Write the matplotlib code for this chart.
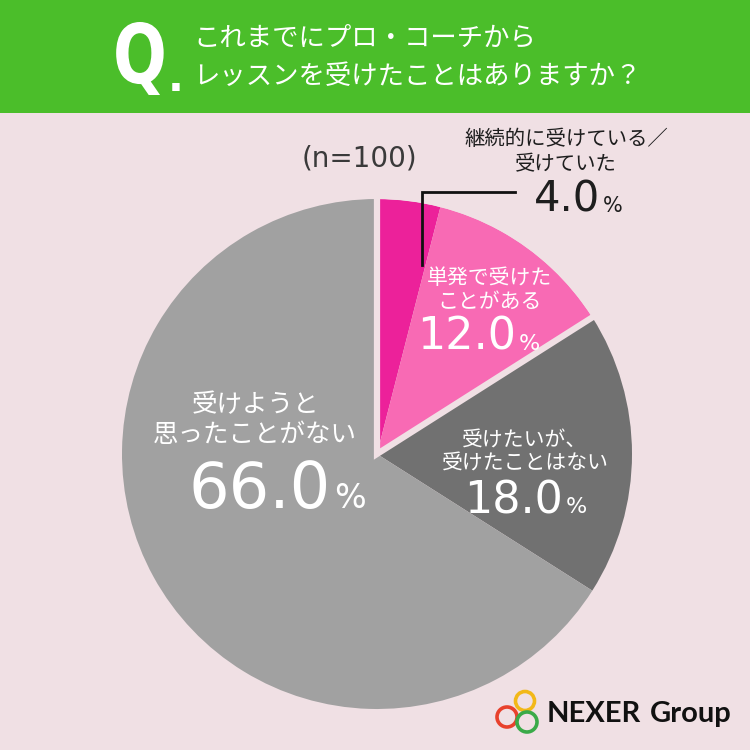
import matplotlib
matplotlib.use("Agg")
import matplotlib.pyplot as plt
from matplotlib.patches import Rectangle, Wedge, Circle
from matplotlib.patheffects import AbstractPathEffect
from matplotlib.transforms import Affine2D

# ---- data ----
categories = ["継続的に受けている／\n受けていた", "単発で受けた\nことがある",
              "受けたいが、\n受けたことはない", "受けようと\n思ったことがない"]
values = [4.0, 12.0, 18.0, 66.0]
value_labels = ["4.0", "12.0", "18.0", "66.0"]
n_label = "(n=100)"
question = ["これまでにプロ・コーチから", "レッスンを受けたことはありますか？"]

colors = ["#EC219A", "#F86AB4", "#717171", "#A1A1A1"]
BG = "#F0E0E4"
GREEN = "#4BBE2A"
JP = ["Noto Sans CJK JP", "DejaVu Sans"]
NUM = ["DejaVu Sans"]

W = H = 750


class Scale(AbstractPathEffect):
    """Scale glyphs about a pixel anchor (x0, y0 measured from the top)."""
    def __init__(self, sx, sy, x0, y0):
        super().__init__()
        self.sx, self.sy = sx, sy
        self.x0, self.y0 = x0, H - y0

    def draw_path(self, renderer, gc, tpath, affine, rgbFace=None):
        t = affine + (Affine2D().translate(-self.x0, -self.y0)
                      .scale(self.sx, self.sy).translate(self.x0, self.y0))
        renderer.draw_path(gc, tpath, t, rgbFace)


fig = plt.figure(figsize=(7.5, 7.5), dpi=100, facecolor=BG)

# ---- pie ----
cx, cy, R = 377, 454, 255
pax = fig.add_axes([(cx - R) / W, (H - cy - R) / H, 2 * R / W, 2 * R / H])
wedges, _ = pax.pie(values, colors=colors, startangle=90, counterclock=False,
                    radius=1, wedgeprops=dict(linewidth=0))
for w in wedges[:2]:
    w.set_zorder(3)
outline = Wedge((0, 0), 1 + 3 / R, wedges[1].theta1, wedges[0].theta2,
                facecolor="none", edgecolor=BG, linewidth=4.5, joinstyle="miter", zorder=4)
pax.add_patch(outline)
pax.set_xlim(-1, 1)
pax.set_ylim(-1, 1)
pax.set_aspect("equal")
pax.axis("off")

# ---- overlay in pixel coords ----
ax = fig.add_axes([0, 0, 1, 1], zorder=5)
ax.set_xlim(0, W)
ax.set_ylim(H, 0)
ax.axis("off")
ax.patch.set_alpha(0)

ax.add_patch(Rectangle((0, 0), W, 113, facecolor=GREEN, edgecolor="none"))
ax.text(113, 83, "Q", color="white", fontsize=40, fontweight="bold", family=NUM,
        ha="left", va="baseline", path_effects=[Scale(1.14, 1.48, 113, 83)])
ax.text(168, 91, ".", color="white", fontsize=30, fontweight="bold", family=NUM,
        ha="left", va="baseline")
ax.text(193, 38, question[0], color="white", fontsize=19, family=JP,
        ha="left", va="center")
ax.text(193, 76, question[1], color="white", fontsize=19, family=JP,
        ha="left", va="center")

ax.text(359, 158, n_label, color="#3A3A3A", fontsize=20, family=NUM, ha="center", va="center")

# slice labels
lab_style = [
    # (center x, line ys, jp size, color, num right x, num baseline, num size, pct size)
    (566, (139, 165), 14.7, "#1E1E1E", 600, 212, 30, 15),
    (490, (278, 302), 15, "white", 516, 350, 32, 16),
    (525, (441, 464), 15, "white", 563, 513, 32, 16),
    (255, (405, 435), 18.4, "white", 331, 508, 46, 24),
]
for cat, val, st in zip(categories, value_labels, lab_style):
    x, ys, js, col, nx, ny, ns, ps = st
    for line, y in zip(cat.split("\n"), ys):
        ax.text(x, y, line, color=col, fontsize=js, family=JP, ha="center", va="center")
    ax.text(nx, ny, val, color=col, fontsize=ns, family=NUM, ha="right", va="baseline")
    ax.text(nx + 3, ny, "%", color=col, fontsize=ps, family=NUM, ha="left", va="baseline")

# leader line for the 4.0% slice
ax.plot([422, 422, 515], [265, 192, 192], color="#111111", lw=2, solid_joinstyle="miter")

# ---- logo ----
for (lx, ly, r, c) in [(525, 701, 9.5, "#F2B818"), (507, 717, 10, "#E8412C"), (527, 722, 10, "#3AAA48")]:
    ax.add_patch(Circle((lx, ly), r, facecolor="none", edgecolor=c, linewidth=2.6))
ax.text(547, 722, "NEXER", color="#111111", fontsize=21, fontweight="bold",
        family=["Lato", "DejaVu Sans"], ha="left", va="baseline")
ax.text(650, 722, "Group", color="#111111", fontsize=21, fontweight="bold",
        family=["Lato", "DejaVu Sans"], ha="left", va="baseline")

fig.savefig("out.png", dpi=100, facecolor=BG)
